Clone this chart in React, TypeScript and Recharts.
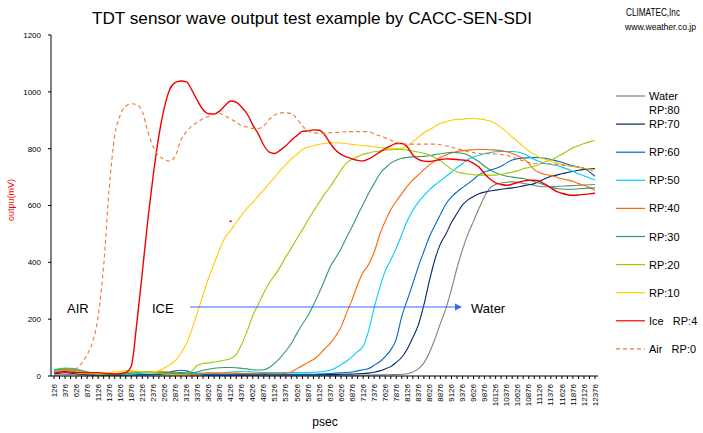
import { LineChart, Line, XAxis, YAxis, ReferenceDot } from "recharts"

const FONT = "'Liberation Sans', Arial, sans-serif"

// psec, one sample every 125
const times = [
  126, 251, 376, 501, 626, 751, 876, 1001, 1126, 1251, 1376, 1501, 1626, 1751, 1876, 2001, 2126, 2251,
  2376, 2501, 2626, 2751, 2876, 3001, 3126, 3251, 3376, 3501, 3626, 3751, 3876, 4001, 4126, 4251, 4376,
  4501, 4626, 4751, 4876, 5001, 5126, 5251, 5376, 5501, 5626, 5751, 5876, 6001, 6126, 6251, 6376, 6501,
  6626, 6751, 6876, 7001, 7126, 7251, 7376, 7501, 7626, 7751, 7876, 8001, 8126, 8251, 8376, 8501, 8626,
  8751, 8876, 9001, 9126, 9251, 9376, 9501, 9626, 9751, 9876, 10001, 10126, 10251, 10376, 10501, 10626,
  10751, 10876, 11001, 11126, 11251, 11376, 11501, 11626, 11751, 11876, 12001, 12126, 12251, 12376,
]

const yTicks = [0, 200, 400, 600, 800, 1000, 1200]

// output in mV
const water = [
  3, 4, 5, 5, 4, 4, 3, 3, 3, 3, 3, 3, 3, 3, 3, 3, 3, 3, 4, 4,
  4, 4, 4, 4, 4, 4, 3, 3, 3, 3, 3, 3, 3, 3, 3, 3, 3, 3, 3, 3,
  3, 3, 3, 3, 3, 3, 3, 3, 3, 3, 3, 3, 3, 3, 3, 3, 3, 3, 4, 4,
  4, 5, 5, 6, 8, 14, 25, 46, 82, 130, 185, 238, 305, 380, 445, 500, 545, 590, 632, 662,
  674, 679, 682, 683, 682, 678, 675, 671, 667, 666, 666, 667, 668, 669, 670, 671, 672, 673, 674,
]
const rp70 = [
  8, 10, 12, 10, 8, 6, 5, 4, 4, 4, 4, 4, 4, 4, 5, 5, 5, 5, 5, 6,
  8, 10, 12, 12, 10, 8, 6, 5, 4, 4, 4, 4, 4, 4, 4, 4, 4, 4, 5, 5,
  5, 5, 5, 5, 5, 5, 5, 5, 5, 5, 5, 5, 6, 6, 7, 8, 9, 10, 13, 18,
  25, 33, 48, 66, 95, 135, 180, 250, 335, 410, 465, 500, 540, 572, 602, 620, 632, 641, 647, 651,
  654, 657, 660, 662, 665, 669, 673, 677, 686, 695, 703, 707, 712, 716, 720, 724, 727, 729, 730,
]
const rp60 = [
  20, 24, 25, 22, 18, 14, 10, 8, 6, 5, 4, 4, 4, 5, 6, 6, 6, 6, 6, 8,
  10, 14, 18, 20, 18, 12, 8, 6, 5, 5, 5, 5, 6, 7, 8, 8, 8, 8, 8, 7,
  6, 6, 6, 6, 6, 6, 6, 6, 7, 8, 9, 10, 11, 12, 14, 18, 22, 26, 38, 50,
  68, 92, 130, 210, 268, 325, 385, 438, 490, 530, 568, 605, 630, 648, 663, 677, 692, 708, 718, 724,
  730, 738, 750, 760, 765, 767, 768, 769, 768, 766, 762, 757, 752, 745, 740, 735, 730, 718, 703,
]
const rp50 = [
  22, 26, 28, 27, 25, 20, 15, 10, 8, 6, 5, 5, 5, 5, 6, 8, 10, 11, 12, 12,
  11, 10, 10, 10, 10, 10, 10, 10, 10, 10, 10, 12, 14, 15, 15, 15, 14, 13, 12, 12,
  12, 12, 12, 12, 12, 12, 12, 13, 14, 16, 20, 28, 40, 52, 68, 86, 105, 160, 240, 310,
  370, 408, 450, 498, 546, 583, 612, 635, 655, 672, 687, 702, 718, 733, 748, 762, 771, 777, 782, 786,
  789, 790, 790, 790, 788, 783, 773, 762, 754, 748, 744, 741, 735, 728, 720, 712, 705, 697, 690,
]
const rp40 = [
  15, 22, 25, 24, 22, 18, 14, 10, 7, 6, 6, 6, 8, 12, 15, 16, 16, 15, 15, 15,
  15, 14, 12, 10, 6, 4, 5, 8, 10, 10, 10, 10, 10, 10, 9, 8, 8, 8, 8, 8,
  8, 8, 10, 14, 26, 36, 48, 58, 74, 95, 114, 140, 172, 222, 268, 322, 365, 393, 436, 497,
  545, 585, 615, 642, 668, 690, 708, 726, 743, 756, 770, 778, 785, 790, 793, 795, 796, 797, 797, 796,
  795, 793, 789, 783, 775, 765, 748, 726, 715, 709, 706, 700, 694, 690, 685, 677, 671, 663, 653,
]
const rp30 = [
  20, 22, 20, 18, 16, 14, 12, 10, 8, 6, 5, 5, 6, 8, 10, 12, 14, 15, 15, 14,
  12, 10, 8, 8, 10, 12, 15, 20, 24, 27, 29, 30, 30, 29, 27, 25, 22, 21, 22, 30,
  45, 65, 88, 115, 150, 183, 212, 250, 292, 336, 383, 415, 448, 488, 525, 566, 604, 643, 677, 711,
  732, 749, 759, 766, 769, 771, 772, 773, 775, 779, 782, 785, 787, 786, 784, 778, 766, 754, 738, 726,
  715, 708, 703, 700, 697, 695, 690, 684, 678, 672, 665, 660, 658, 657, 657, 659, 660, 661, 662,
]
const rp20 = [
  18, 20, 22, 20, 17, 14, 12, 10, 8, 8, 8, 8, 10, 12, 14, 15, 15, 14, 12, 10,
  8, 7, 6, 5, 8, 18, 38, 44, 46, 49, 52, 56, 61, 75, 112, 158, 212, 252, 292, 328,
  355, 385, 420, 450, 484, 515, 548, 580, 610, 640, 665, 695, 725, 750, 763, 772, 780, 785, 789, 792,
  795, 796, 797, 797, 795, 792, 788, 784, 778, 768, 758, 742, 728, 718, 714, 711, 708, 707, 707, 707,
  707, 710, 714, 718, 722, 729, 734, 739, 745, 754, 760, 770, 780, 792, 803, 810, 818, 824, 829,
]
const rp10 = [
  12, 15, 16, 14, 12, 10, 8, 8, 8, 10, 12, 14, 16, 18, 18, 17, 15, 14, 15, 18,
  28, 40, 55, 80, 115, 165, 225, 285, 345, 395, 445, 488, 512, 540, 566, 591, 610, 633, 655, 678,
  700, 724, 744, 764, 780, 797, 805, 810, 815, 818, 821, 821, 820, 818, 815, 813, 811, 809, 807, 804,
  802, 801, 800, 801, 810, 825, 840, 856, 866, 878, 889, 895, 900, 903, 904, 906, 906, 905, 902, 897,
  888, 874, 858, 841, 825, 808, 792, 780, 769, 762, 756, 750, 745, 741, 737, 734, 731, 728, 724,
]
const ice = [
  10, 14, 15, 14, 12, 12, 12, 12, 12, 10, 8, 7, 8, 12, 35, 185, 365, 550, 710, 845,
  945, 1010, 1033, 1038, 1035, 1005, 968, 937, 923, 922, 932, 952, 968, 964, 946, 922, 884, 852, 812, 788,
  783, 795, 810, 830, 846, 861, 863, 866, 865, 850, 820, 795, 780, 771, 764, 759, 757, 764, 775, 788,
  800, 810, 818, 818, 806, 778, 762, 756, 755, 758, 762, 764, 763, 762, 760, 758, 748, 735, 712, 693,
  680, 674, 671, 675, 681, 686, 689, 689, 685, 674, 662, 650, 643, 638, 636, 637, 639, 641, 643,
]
const air = [
  15, 18, 20, 18, 25, 45, 75, 120, 210, 390, 660, 845, 918, 950, 958, 955, 930, 860, 806, 775,
  762, 756, 775, 830, 860, 880, 893, 905, 913, 920, 924, 915, 905, 893, 881, 876, 871, 871, 880, 903,
  918, 926, 926, 924, 905, 880, 864, 856, 854, 855, 856, 857, 858, 860, 860, 860, 860, 860, 852, 845,
  838, 830, 822, 818, 816, 816, 816, 816, 816, 816, 814, 810, 805, 800, 795, 789, 786, 783, 782, 782,
  781, 779, 777, 770, 764, 757, 751, 748, 748, 748, 747, 745, 742, 740, 738, 735, 731, 726, 716,
]

// a stray red dot in the original plot
const strayDot = { t: "4126", v: 545 }

const series = [
  { key: "water", label: ["Water", "RP:80"], color: "#808080", values: water },
  { key: "rp70", label: ["RP:70"], color: "#002a66", values: rp70 },
  { key: "rp60", label: ["RP:60"], color: "#0066cc", values: rp60 },
  { key: "rp50", label: ["RP:50"], color: "#00ccff", values: rp50 },
  { key: "rp40", label: ["RP:40"], color: "#ff6600", values: rp40 },
  { key: "rp30", label: ["RP:30"], color: "#339966", values: rp30 },
  { key: "rp20", label: ["RP:20"], color: "#99cc00", values: rp20 },
  { key: "rp10", label: ["RP:10"], color: "#ffcc00", values: rp10 },
  { key: "ice", label: ["Ice   RP:4"], color: "#ee0000", values: ice },
  { key: "air", label: ["Air   RP:0"], color: "#f07830", values: air, dash: "4 3" },
]

const data = times.map((t, i) => {
  const row: Record<string, number | string> = { t: String(t) }
  series.forEach((s) => {
    row[s.key] = s.values[i]
  })
  return row
})

function XTick(props: any) {
  const { x, y, payload, index } = props
  if (index % 2 !== 0) return <g />
  return (
    <text
      transform={`translate(${x},${y}) rotate(-90)`}
      textAnchor="end"
      dy="0.33em"
      fontSize={8}
      fontFamily={FONT}
      fill="#000"
    >
      {payload.value}
    </text>
  )
}

function Legend() {
  return (
    <g fontFamily={FONT} fontSize={11} fill="#000">
      {series.map((s, i) => {
        const cy = 96 + i * 28.1
        return (
          <g key={s.key}>
            <line x1={616} x2={645} y1={cy} y2={cy} stroke={s.color} strokeWidth={1.2} strokeDasharray={s.dash} />
            {s.label.map((line, j) => (
              <text key={j} x={649} y={cy + 4 + j * 14} style={{ whiteSpace: "pre" }}>
                {line}
              </text>
            ))}
          </g>
        )
      })}
    </g>
  )
}

export default function App() {
  return (
    <div style={{ position: "absolute", left: 0, top: 0, width: 703, height: 433, background: "#fff" }}>
      <LineChart width={703} height={433} data={data} margin={{ top: 35, right: 105, bottom: 17, left: 0 }}>
        <XAxis
          dataKey="t"
          interval={0}
          tick={XTick}
          tickSize={3}
          tickMargin={5}
          height={40}
          padding={{ left: 3, right: 3 }}
          axisLine={{ stroke: "#000" }}
          tickLine={{ stroke: "#000" }}
        />
        <XAxis
          xAxisId="top"
          orientation="top"
          dataKey="t"
          height={0}
          tick={false}
          tickLine={false}
          axisLine={{ stroke: "#000" }}
        />
        <YAxis
          domain={[0, 1200]}
          ticks={yTicks}
          width={51}
          tickSize={3}
          tickMargin={7}
          tick={{ fontSize: 8, fill: "#000", fontFamily: FONT }}
          axisLine={{ stroke: "#000" }}
          tickLine={{ stroke: "#000" }}
        />
        <YAxis
          yAxisId="right"
          orientation="right"
          domain={[0, 1200]}
          width={0}
          tick={false}
          tickLine={false}
          axisLine={{ stroke: "#000" }}
        />
        {series.map((s) => (
          <Line
            key={s.key}
            dataKey={s.key}
            type="monotone"
            stroke={s.color}
            strokeWidth={s.key === "ice" ? 1.4 : 1.1}
            strokeDasharray={s.dash}
            dot={false}
            isAnimationActive={false}
          />
        ))}
        <ReferenceDot x={strayDot.t} y={strayDot.v} r={1.2} fill="#ff3333" stroke="none" />
      </LineChart>
      <svg width={703} height={433} style={{ position: "absolute", left: 0, top: 0, pointerEvents: "none" }}>
        <text
          x={92}
          y={24}
          fontSize={16.5}
          textLength={440}
          lengthAdjust="spacingAndGlyphs"
          fontFamily={FONT}
          fill="#000"
        >
          TDT sensor wave output test example by CACC-SEN-SDI
        </text>
        <text x={626} y={16} fontSize={11} textLength={54} lengthAdjust="spacingAndGlyphs" fontFamily={FONT} fill="#000">
          CLIMATEC,Inc
        </text>
        <text x={625} y={30} fontSize={9.5} textLength={71} lengthAdjust="spacingAndGlyphs" fontFamily={FONT} fill="#000">
          www.weather.co.jp
        </text>
        <text
          transform="translate(11,200) rotate(-90)"
          textAnchor="middle"
          dy="0.35em"
          fontSize={9}
          fontFamily={FONT}
          fill="#ff0000"
        >
          outpu(mV)
        </text>
        <text x={325} y={426} textAnchor="middle" fontSize={12} fontFamily={FONT} fill="#000">psec</text>
        <g fontSize={13} fontFamily={FONT} fill="#000">
          <text x={67} y={313}>AIR</text>
          <text x={152} y={313}>ICE</text>
          <text x={471} y={313}>Water</text>
        </g>
        <line x1={190} x2={456} y1={307} y2={307} stroke="#3366ff" strokeWidth={1.2} />
        <path d="M462,307 L455,303.5 L455,310.5 Z" fill="#3366ff" />
        <Legend />
      </svg>
    </div>
  )
}
